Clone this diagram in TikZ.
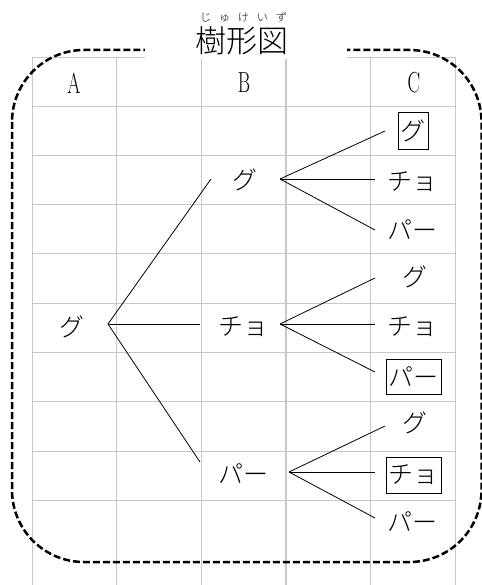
\documentclass[tikz,border=0pt]{standalone}
\usepackage{fontspec}
\newfontfamily\jp{Noto Sans CJK JP Light}
\definecolor{gridc}{RGB}{200,200,200}
\tikzset{
  gridline/.style={draw=gridc, line width=0.9pt},
  branch/.style={draw=black, line width=0.8pt},
  kana/.style={inner sep=0pt, font=\jp\fontsize{25}{25}\selectfont},
  boxed/.style={kana, draw=black, line width=0.9pt},
  colhead/.style={inner sep=0pt, font=\fontsize{29}{29}\selectfont},
  frame/.style={draw=black, line width=2.5pt, dash pattern=on 7pt off 3pt, rounded corners=72pt}
}
\begin{document}
\begin{tikzpicture}[x=1pt,y=-1pt]
\useasboundingbox (0,0) rectangle (481,585);
% grid
\foreach \x in {32,116.5,201,370.5,455} \draw[gridline] (\x,57) -- (\x,585);
\draw[gridline, line width=1.4pt] (286,57) -- (286,585);
\foreach \y in {57,106,155,204,253,303,352,401,451,500} \draw[gridline] (32,\y) -- (455,\y);
% column heads
\node[colhead] (hA) at (74,83) {\scalebox{0.65}[1]{A}};
\node[colhead] (hB) at (244,83) {\scalebox{0.65}[1]{B}};
\node[colhead] (hC) at (414,83) {\scalebox{0.65}[1]{C}};
% tree nodes
\node[kana] (a1) at (72,327) {グ};
\node[kana] (b1) at (245,180) {グ};
\node[kana] (b2) at (243,327) {チョ};
\node[kana] (b3) at (243,474) {パー};
\node[boxed, minimum width=30pt, minimum height=37pt] (c1) at (413,130.5) {グ};
\node[kana] (c2) at (412,182) {チョ};
\node[kana] (c3) at (412,230) {パー};
\node[kana] (c4) at (415,277) {グ};
\node[kana] (c5) at (412,327) {チョ};
\node[boxed, minimum width=55pt, minimum height=35pt] (c6) at (413.5,376.5) {パー};
\node[kana] (c7) at (415,423) {グ};
\node[boxed, minimum width=55pt, minimum height=36pt] (c8) at (413.5,475) {チョ};
\node[kana] (c9) at (412,522) {パー};
% connector ends
\coordinate (a1o) at (108,324);
\coordinate (b1i) at (211,179);
\coordinate (b1o) at (280,179);
\coordinate (b2i) at (200,324);
\coordinate (b2o) at (280,324);
\coordinate (b3i) at (200,462);
\coordinate (b3o) at (289,472);
\coordinate (c1i) at (385,131);
\coordinate (c2i) at (375,179);
\coordinate (c3i) at (375,230);
\coordinate (c4i) at (375,278);
\coordinate (c5i) at (375,324);
\coordinate (c6i) at (375,372);
\coordinate (c7i) at (385,426);
\coordinate (c8i) at (375,472);
\coordinate (c9i) at (375,518);
\draw[branch] (a1o) -- (b1i);
\draw[branch] (a1o) -- (b2i);
\draw[branch] (a1o) -- (b3i);
\draw[branch] (b1o) -- (c1i);
\draw[branch] (b1o) -- (c2i);
\draw[branch] (b1o) -- (c3i);
\draw[branch] (b2o) -- (c4i);
\draw[branch] (b2o) -- (c5i);
\draw[branch] (b2o) -- (c6i);
\draw[branch] (b3o) -- (c7i);
\draw[branch] (b3o) -- (c8i);
\draw[branch] (b3o) -- (c9i);
% dashed frame
\draw[frame] (12,50) rectangle (481.5,562);
% title
\fill[white] (145,0) rectangle (347,59);
\node[inner sep=0pt, font=\jp\fontsize{31}{31}\selectfont] (title) at (241.5,41) {樹形図};
\node[inner sep=0pt, font=\jp\fontsize{11}{11}\selectfont] (ruby) at (243.5,17) {\hbox to 87pt{じ\hfil ゅ\hfil け\hfil い\hfil ず}};
\end{tikzpicture}
\end{document}
